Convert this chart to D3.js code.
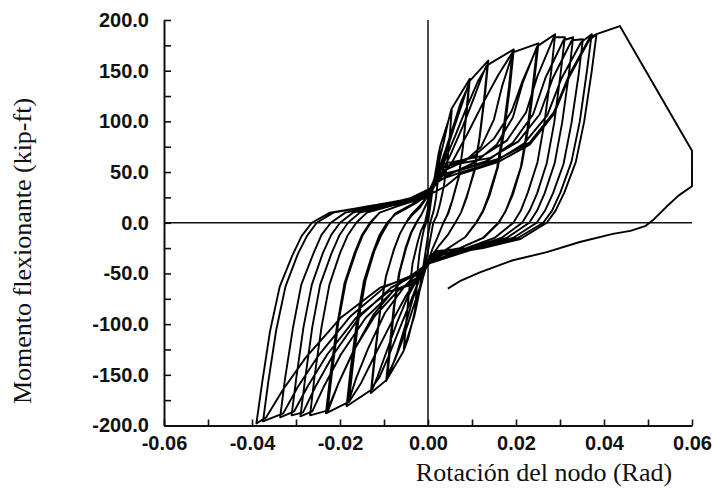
<!DOCTYPE html>
<html>
<head>
<meta charset="utf-8">
<script src="https://cdn.jsdelivr.net/npm/d3@7"></script>
<style>
  html, body { margin: 0; padding: 0; background: #fff; }
  svg { display: block; }
</style>
</head>
<body>
<svg id="chart" width="712" height="491"></svg>
<script>
// Axis ticks
const rotLabelled = [-0.06, -0.04, -0.02, 0, 0.02, 0.04, 0.06];
const rotTicks = [-0.06, -0.05, -0.04, -0.03, -0.02, -0.01, 0, 0.01, 0.02, 0.03, 0.04, 0.05, 0.06];
const momLabelled = [-200, -150, -100, -50, 0, 50, 100, 150, 200];
const momTicks = [-200, -175, -150, -125, -100, -75, -50, -25, 0, 25, 50, 75, 100, 125, 150, 175, 200];

// Hysteresis record: [rotation (rad), moment (kip-ft)], one array per load cycle
const ciclo01 = [[0,0],[0.0008,25],[0.0017,50],[0.0027,74],[0.0025,59],[0.0022,40],[0.0018,24],[0.0013,12],[0.0005,0],[0.0000,-12],[-0.0006,-30],[-0.0015,-55],[-0.0023,-75],[-0.0030,-90],[-0.0027,-72],[-0.0024,-49],[-0.0019,-29],[-0.0013,-14],[-0.0009,-6],[-0.0004,0]];
const ciclo02 = [[0.0003,12],[0.0009,30],[0.0018,52],[0.0024,68],[0.0028,76],[0.0054,111],[0.0050,89],[0.0044,60],[0.0036,36],[0.0027,18],[0.0020,7],[0.0012,0],[0.0006,-14],[0.0000,-28],[-0.0008,-44],[-0.0018,-65],[-0.0026,-82],[-0.0031,-92],[-0.0055,-125],[-0.0050,-100],[-0.0043,-68],[-0.0035,-40],[-0.0024,-20],[-0.0016,-8],[-0.0007,0]];
const ciclo03 = [[-0.0002,10],[0.0004,24],[0.0012,38],[0.0024,58],[0.0036,80],[0.0046,100],[0.0053,112],[0.0095,142],[0.0089,114],[0.0080,77],[0.0070,45],[0.0056,23],[0.0046,9],[0.0035,0],[0.0022,-14],[0.0010,-26],[0.0000,-38],[-0.0010,-52],[-0.0022,-72],[-0.0034,-95],[-0.0045,-114],[-0.0056,-127],[-0.0095,-156],[-0.0088,-125],[-0.0078,-84],[-0.0066,-50],[-0.0051,-25],[-0.0039,-10],[-0.0027,0]];
const ciclo03b = [[-0.0015,8],[-0.0004,18],[0.0008,32],[0.0022,50],[0.0040,72],[0.0058,96],[0.0074,118],[0.0093,136],[0.0087,109],[0.0079,73],[0.0069,44],[0.0055,22],[0.0045,9],[0.0035,0],[0.0022,-14],[0.0010,-26],[0.0000,-38],[-0.0010,-52],[-0.0025,-72],[-0.0042,-95],[-0.0060,-118],[-0.0076,-136],[-0.0092,-150],[-0.0085,-120],[-0.0076,-81],[-0.0064,-48],[-0.0049,-24],[-0.0038,-10],[-0.0026,0]];
const ciclo04 = [[-0.0014,9],[-0.0004,18],[0.0008,30],[0.0020,42],[0.0040,68],[0.0060,95],[0.0078,118],[0.0090,134],[0.0095,140],[0.0137,160],[0.0130,128],[0.0118,86],[0.0106,51],[0.0088,26],[0.0075,10],[0.0062,0],[0.0045,-12],[0.0026,-22],[0.0010,-32],[-0.0005,-44],[-0.0020,-56],[-0.0035,-76],[-0.0052,-102],[-0.0070,-128],[-0.0085,-146],[-0.0094,-155],[-0.0130,-168],[-0.0122,-134],[-0.0110,-91],[-0.0096,-54],[-0.0078,-27],[-0.0064,-11],[-0.0050,0]];
const ciclo04b = [[-0.0035,8],[-0.0018,15],[-0.0004,24],[0.0012,36],[0.0035,58],[0.0062,86],[0.0090,116],[0.0114,140],[0.0135,155],[0.0128,124],[0.0117,84],[0.0104,50],[0.0088,25],[0.0075,10],[0.0062,0],[0.0045,-12],[0.0026,-22],[0.0010,-32],[-0.0005,-44],[-0.0020,-56],[-0.0040,-78],[-0.0065,-105],[-0.0090,-132],[-0.0110,-152],[-0.0128,-163],[-0.0120,-130],[-0.0109,-88],[-0.0095,-52],[-0.0077,-26],[-0.0064,-11],[-0.0050,0]];
const ciclo05 = [[-0.0038,8],[-0.0020,16],[-0.0005,24],[0.0012,36],[0.0025,44],[0.0050,66],[0.0080,96],[0.0105,124],[0.0124,146],[0.0133,155],[0.0195,171],[0.0187,137],[0.0174,92],[0.0159,55],[0.0140,27],[0.0125,11],[0.0110,0],[0.0085,-14],[0.0050,-24],[0.0020,-32],[0.0002,-40],[-0.0020,-52],[-0.0045,-72],[-0.0070,-98],[-0.0095,-128],[-0.0115,-152],[-0.0126,-164],[-0.0185,-181],[-0.0176,-145],[-0.0162,-98],[-0.0146,-58],[-0.0125,-29],[-0.0110,-12],[-0.0093,0]];
const ciclo05b = [[-0.0075,8],[-0.0050,14],[-0.0025,20],[0.0000,28],[0.0022,40],[0.0055,60],[0.0090,88],[0.0125,118],[0.0160,146],[0.0192,168],[0.0184,134],[0.0171,91],[0.0157,54],[0.0138,27],[0.0124,11],[0.0109,0],[0.0085,-14],[0.0050,-24],[0.0020,-32],[0.0002,-40],[-0.0020,-52],[-0.0050,-72],[-0.0085,-100],[-0.0120,-130],[-0.0152,-158],[-0.0180,-177],[-0.0171,-142],[-0.0158,-96],[-0.0142,-57],[-0.0122,-28],[-0.0106,-12],[-0.0090,0]];
const ciclo06 = [[-0.0075,9],[-0.0050,15],[-0.0025,21],[-0.0005,26],[0.0018,45],[0.0039,52],[0.0084,61],[0.0121,75],[0.0150,102],[0.0168,134],[0.0193,168],[0.0251,177],[0.0242,142],[0.0229,96],[0.0213,57],[0.0193,28],[0.0177,12],[0.0161,0],[0.0126,-15],[0.0072,-25],[0.0014,-30],[-0.0016,-46],[-0.0054,-63],[-0.0098,-89],[-0.0137,-125],[-0.0163,-153],[-0.0181,-177],[-0.0232,-188],[-0.0222,-150],[-0.0207,-102],[-0.0190,-60],[-0.0167,-30],[-0.0150,-12],[-0.0132,0]];
const ciclo06b = [[-0.0110,10],[-0.0072,16],[-0.0035,21],[0.0002,30],[0.0024,52],[0.0050,57],[0.0105,66],[0.0150,83],[0.0190,110],[0.0215,140],[0.0248,173],[0.0239,138],[0.0226,93],[0.0211,55],[0.0191,28],[0.0176,11],[0.0160,0],[0.0125,-15],[0.0072,-25],[0.0008,-36],[-0.0024,-54],[-0.0066,-66],[-0.0121,-92],[-0.0169,-126],[-0.0201,-156],[-0.0228,-184],[-0.0218,-147],[-0.0204,-99],[-0.0187,-59],[-0.0164,-29],[-0.0148,-12],[-0.0130,0]];
const ciclo07 = [[-0.0110,10],[-0.0072,16],[-0.0035,21],[-0.0008,24],[0.0015,38],[0.0050,48],[0.0108,60],[0.0156,77],[0.0193,104],[0.0216,139],[0.0248,174],[0.0289,186],[0.0280,149],[0.0265,100],[0.0249,60],[0.0227,30],[0.0211,12],[0.0194,0],[0.0151,-15],[0.0087,-25],[0.0016,-28],[-0.0012,-44],[-0.0067,-61],[-0.0123,-90],[-0.0172,-129],[-0.0204,-159],[-0.0227,-185],[-0.0268,-190],[-0.0258,-152],[-0.0242,-103],[-0.0224,-61],[-0.0200,-30],[-0.0182,-12],[-0.0163,0]];
const ciclo08 = [[-0.0139,10],[-0.0090,16],[-0.0045,21],[0.0004,32],[0.0028,58],[0.0058,60],[0.0124,66],[0.0179,81],[0.0223,109],[0.0249,145],[0.0286,183],[0.0311,183],[0.0301,146],[0.0287,99],[0.0270,59],[0.0248,29],[0.0231,12],[0.0214,0],[0.0167,-15],[0.0096,-25],[0.0005,-38],[-0.0026,-57],[-0.0078,-67],[-0.0142,-94],[-0.0198,-130],[-0.0236,-161],[-0.0263,-186],[-0.0290,-191],[-0.0279,-153],[-0.0263,-103],[-0.0245,-61],[-0.0220,-31],[-0.0201,-12],[-0.0182,0]];
const ciclo09 = [[-0.0155,10],[-0.0100,16],[-0.0050,21],[-0.0003,27],[0.0020,44],[0.0062,51],[0.0134,61],[0.0193,79],[0.0239,107],[0.0267,143],[0.0308,180],[0.0330,183],[0.0320,146],[0.0305,99],[0.0288,59],[0.0265,29],[0.0248,12],[0.0230,0],[0.0179,-15],[0.0104,-25],[0.0012,-32],[-0.0018,-49],[-0.0084,-64],[-0.0154,-92],[-0.0215,-130],[-0.0255,-161],[-0.0284,-187],[-0.0310,-190],[-0.0299,-152],[-0.0283,-103],[-0.0264,-61],[-0.0239,-30],[-0.0220,-12],[-0.0200,0]];
const ciclo10 = [[-0.0170,10],[-0.0110,16],[-0.0055,21],[0.0006,34],[0.0026,55],[0.0066,58],[0.0142,64],[0.0205,80],[0.0254,107],[0.0284,143],[0.0327,180],[0.0352,181],[0.0342,145],[0.0326,98],[0.0308,58],[0.0284,29],[0.0266,12],[0.0247,0],[0.0193,-15],[0.0111,-25],[0.0003,-40],[-0.0028,-60],[-0.0090,-68],[-0.0164,-94],[-0.0229,-130],[-0.0273,-161],[-0.0304,-186],[-0.0336,-192],[-0.0325,-154],[-0.0307,-104],[-0.0288,-61],[-0.0261,-31],[-0.0242,-12],[-0.0221,0]];
const ciclo11 = [[-0.0188,10],[-0.0122,16],[-0.0060,21],[-0.0006,25],[0.0017,41],[0.0070,49],[0.0151,60],[0.0218,78],[0.0271,106],[0.0303,142],[0.0348,178],[0.0372,186],[0.0361,149],[0.0345,100],[0.0326,60],[0.0301,30],[0.0282,12],[0.0262,0],[0.0204,-15],[0.0118,-25],[0.0015,-31],[-0.0015,-48],[-0.0097,-63],[-0.0178,-93],[-0.0249,-131],[-0.0296,-162],[-0.0329,-188],[-0.0375,-196],[-0.0363,-157],[-0.0345,-106],[-0.0324,-63],[-0.0296,-31],[-0.0275,-13],[-0.0253,0]];
const ciclo12 = [[-0.0215,10],[-0.0139,16],[-0.0070,21],[0.0003,29],[0.0022,47],[0.0074,52],[0.0160,63],[0.0231,79],[0.0286,109],[0.0320,145],[0.0368,183],[0.0383,186],[0.0372,149],[0.0355,100],[0.0336,60],[0.0310,30],[0.0290,12],[0.0270,0],[0.0210,-16],[0.0125,-25],[0.0010,-33],[-0.0020,-51],[-0.0109,-64],[-0.0199,-94],[-0.0278,-133],[-0.0330,-165],[-0.0368,-192],[-0.0390,-198],[-0.0377,-158],[-0.0359,-107],[-0.0337,-63],[-0.0308,-32],[-0.0287,-13],[-0.0264,0]];
const tramoFinal = [[-0.0223,10],[-0.0150,15],[-0.0086,20],[0.0000,27],[0.0040,36],[0.0074,48],[0.0160,60],[0.0231,77],[0.0286,107],[0.0320,143],[0.0366,180],[0.0383,186],[0.0436,194],[0.0600,71],[0.0600,36],[0.0570,27],[0.0540,15],[0.0515,4],[0.0495,-3],[0.0460,-8],[0.0420,-11],[0.0345,-19],[0.0270,-29],[0.0193,-37],[0.0118,-49],[0.0075,-57],[0.0045,-65]];

const ciclos = [ciclo01, ciclo02, ciclo03, ciclo03b, ciclo04, ciclo04b, ciclo05, ciclo05b,
                ciclo06, ciclo06b, ciclo07, ciclo08, ciclo09, ciclo10, ciclo11, ciclo12, tramoFinal];

const svg = d3.select("#chart");

const x = d3.scaleLinear().domain([-0.06, 0.06]).range([164, 692]);
const y = d3.scaleLinear().domain([-200, 200]).range([425.5, 20]);

const ink = "#111";
const sansFont = "'Liberation Sans', Arial, Helvetica, sans-serif";
const serifFont = "'Liberation Serif', 'Times New Roman', Times, serif";

// Zero reference lines
svg.append("line")
  .attr("x1", x(-0.06)).attr("x2", x(0.06))
  .attr("y1", y(0)).attr("y2", y(0))
  .attr("stroke", ink).attr("stroke-width", 1.5);
svg.append("line")
  .attr("x1", x(0)).attr("x2", x(0))
  .attr("y1", y(200)).attr("y2", y(-200))
  .attr("stroke", ink).attr("stroke-width", 1.5);

// Hysteresis curve, drawn as one continuous record
const line = d3.line().x(d => x(d[0])).y(d => y(d[1])).curve(d3.curveLinear);
svg.append("path")
  .datum(ciclos.flat())
  .attr("d", line)
  .attr("fill", "none")
  .attr("stroke", "#000")
  .attr("stroke-width", 1.9)
  .attr("stroke-linejoin", "round");

// Axes
const xAxis = d3.axisBottom(x)
  .tickValues(rotTicks)
  .tickSizeInner(-6).tickSizeOuter(0)
  .tickPadding(10)
  .tickFormat(d => rotLabelled.some(v => Math.abs(v - d) < 1e-9) ? d.toFixed(2) : "");
const gx = svg.append("g").attr("transform", `translate(0,${y(-200)})`).call(xAxis);

const yAxis = d3.axisLeft(y)
  .tickValues(momTicks)
  .tickSizeInner(-7).tickSizeOuter(0)
  .tickPadding(15)
  .tickFormat(d => momLabelled.includes(d) ? d.toFixed(1) : "");
const gy = svg.append("g").attr("transform", `translate(${x(-0.06)},0)`).call(yAxis);

[gx, gy].forEach(g => {
  g.select(".domain").attr("stroke", ink).attr("stroke-width", 2);
  g.selectAll(".tick line").attr("stroke", ink).attr("stroke-width", 1.6);
  g.selectAll(".tick text")
    .attr("fill", ink)
    .style("font-family", sansFont)
    .style("font-weight", "bold")
    .style("font-size", "20px");
});

// Axis titles
svg.append("text")
  .attr("x", 544).attr("y", 481)
  .attr("text-anchor", "middle")
  .style("font-family", serifFont)
  .style("font-size", "26px")
  .attr("fill", ink)
  .text("Rotación del nodo (Rad)");

svg.append("text")
  .attr("transform", "translate(31,251) rotate(-90)")
  .attr("text-anchor", "middle")
  .style("font-family", serifFont)
  .style("font-size", "26px")
  .attr("fill", ink)
  .text("Momento flexionante (kip-ft)");
</script>
</body>
</html>
